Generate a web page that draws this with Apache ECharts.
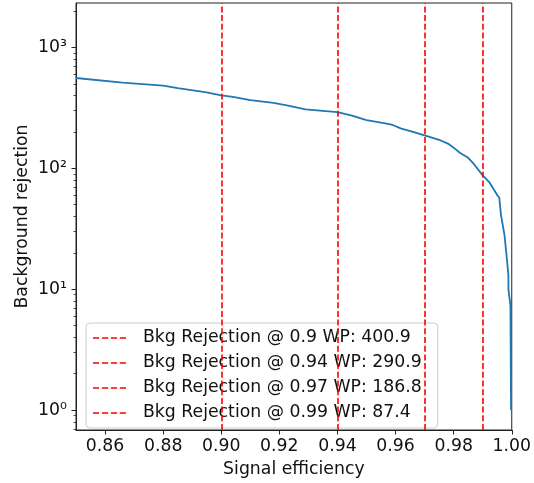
<!DOCTYPE html>
<html>
<head>
<meta charset="utf-8">
<script src="https://cdn.jsdelivr.net/npm/echarts@6/dist/echarts.min.js"></script>
<style>
  html, body { margin: 0; padding: 0; background: #fff; }
  #chart { width: 534px; height: 483px; }
</style>
</head>
<body>
<div id="chart"></div>
<script>
// ROC-like curve: signal efficiency vs background rejection
const signalEff = [
  0.850, 0.866, 0.880, 0.885, 0.895, 0.900, 0.904, 0.910, 0.918, 0.923,
  0.929, 0.935, 0.940, 0.945, 0.950, 0.956, 0.959, 0.962, 0.966, 0.970,
  0.975, 0.978, 0.980, 0.982, 0.985, 0.987, 0.990, 0.9924, 0.995, 0.9957,
  0.9963, 0.9975, 0.9984, 0.99885, 0.99885, 0.99955, 0.99975
];
const bkgRejection = [
  558, 510, 483, 460, 425, 401, 390, 366, 347, 330,
  307, 298, 291, 273, 250, 236, 228, 213, 200, 187,
  172, 160, 148, 135, 122, 108, 87.4, 76, 60, 57,
  41, 28, 17, 13, 10, 7.3, 1.0
];

// working points (vertical dashed lines)
const wpEff = [0.9, 0.94, 0.97, 0.99];
const wpRej = [400.9, 290.9, 186.8, 87.4];

const xTicks = [0.86, 0.88, 0.90, 0.92, 0.94, 0.96, 0.98, 1.00];
const yTicks = [1, 10, 100, 1000];
const yMinorTicks = [];
[0.1, 1, 10, 100, 1000].forEach((d) => {
  for (let k = 2; k <= 9; k++) yMinorTicks.push(d * k);
});

const X_MIN = 0.85, X_MAX = 1.0;
const Y_MIN = 0.684, Y_MAX = 2328;

const FONT = 'DejaVu Sans';
const FS = 17.3;
const SUP = ['⁰', '¹', '²', '³', '⁴'];
const RED_DASH = [6, 2.7];
// legend sample: four short red dashes
const DASH_ICON = 'path://M0,0h6v1.6h-6Z M8.7,0h6v1.6h-6Z M17.4,0h6v1.6h-6Z M26.1,0h6v1.6h-6Z';

const chart = echarts.init(document.getElementById('chart'), null, { renderer: 'canvas' });

const wpSeries = wpEff.map((e, i) => ({
  name: `Bkg Rejection @ ${e} WP: ${wpRej[i].toFixed(1)}`,
  type: 'line',
  data: [],
  symbol: 'none',
  z: 3,
  itemStyle: { color: '#ff0000' },
  lineStyle: { color: '#ff0000', type: RED_DASH, width: 1.6 },
  markLine: {
    silent: true,
    symbol: ['none', 'none'],
    label: { show: false },
    animation: false,
    lineStyle: { color: '#ff0000', type: RED_DASH, width: 1.6 },
    data: [{ xAxis: e }],
  },
}));

const option = {
  animation: false,
  textStyle: { fontFamily: FONT },
  grid: {
    left: 76, right: 20, top: 3, bottom: 45,
    show: true, borderColor: '#222', borderWidth: 1,
  },
  legend: {
    orient: 'vertical',
    left: 86, top: 323,
    data: wpSeries.map((s) => ({ name: s.name, icon: DASH_ICON })),
    itemWidth: 33, itemHeight: 12, itemGap: 7,
    padding: [6, 16, 6, 7],
    backgroundColor: 'rgba(255,255,255,0.8)',
    borderColor: '#cccccc', borderWidth: 1, borderRadius: 4,
    selectedMode: false,
    itemStyle: { color: '#ff0000' },
    lineStyle: { width: 0 },
    textStyle: {
      fontFamily: FONT, fontSize: FS, color: '#111',
      lineHeight: 18, padding: [0, 0, 0, 12],
    },
  },
  xAxis: {
    type: 'value',
    min: X_MIN, max: X_MAX,
    name: 'Signal efficiency',
    nameLocation: 'middle', nameGap: 31,
    nameTextStyle: { fontFamily: FONT, fontSize: FS, color: '#111' },
    axisLine: { lineStyle: { color: '#222', width: 1 } },
    axisTick: { customValues: xTicks, length: 4.5, lineStyle: { color: '#222' } },
    axisLabel: {
      customValues: xTicks, margin: 8,
      fontFamily: FONT, fontSize: FS, color: '#111',
      formatter: (v) => v.toFixed(2),
    },
    splitLine: { show: false },
  },
  yAxis: [
    {
      type: 'log', logBase: 10,
      min: Y_MIN, max: Y_MAX,
      name: 'Background rejection',
      nameLocation: 'middle', nameGap: 45,
      nameMoveOverlap: false,
      nameTextStyle: { fontFamily: FONT, fontSize: FS, color: '#111' },
      axisLine: { show: true, lineStyle: { color: '#222', width: 1 } },
      axisTick: { customValues: yTicks, length: 4.5, lineStyle: { color: '#222' } },
      axisLabel: {
        customValues: yTicks, margin: 9,
        fontFamily: FONT, fontSize: FS, color: '#111',
        formatter: (v) => '10' + SUP[Math.round(Math.log10(v))],
      },
      splitLine: { show: false },
    },
    {
      // minor ticks only
      type: 'log', logBase: 10,
      min: Y_MIN, max: Y_MAX,
      position: 'left',
      axisLine: { show: false },
      axisTick: { show: true, customValues: yMinorTicks, length: 2.5, lineStyle: { color: '#222', width: 0.8 } },
      axisLabel: { show: false },
      splitLine: { show: false },
    },
  ],
  series: [
    {
      type: 'line',
      data: signalEff.map((e, i) => [e, bkgRejection[i]]),
      symbol: 'none',
      z: 2,
      lineStyle: { color: '#1f77b4', width: 1.8 },
    },
    ...wpSeries,
  ],
};

chart.setOption(option);
</script>
</body>
</html>
